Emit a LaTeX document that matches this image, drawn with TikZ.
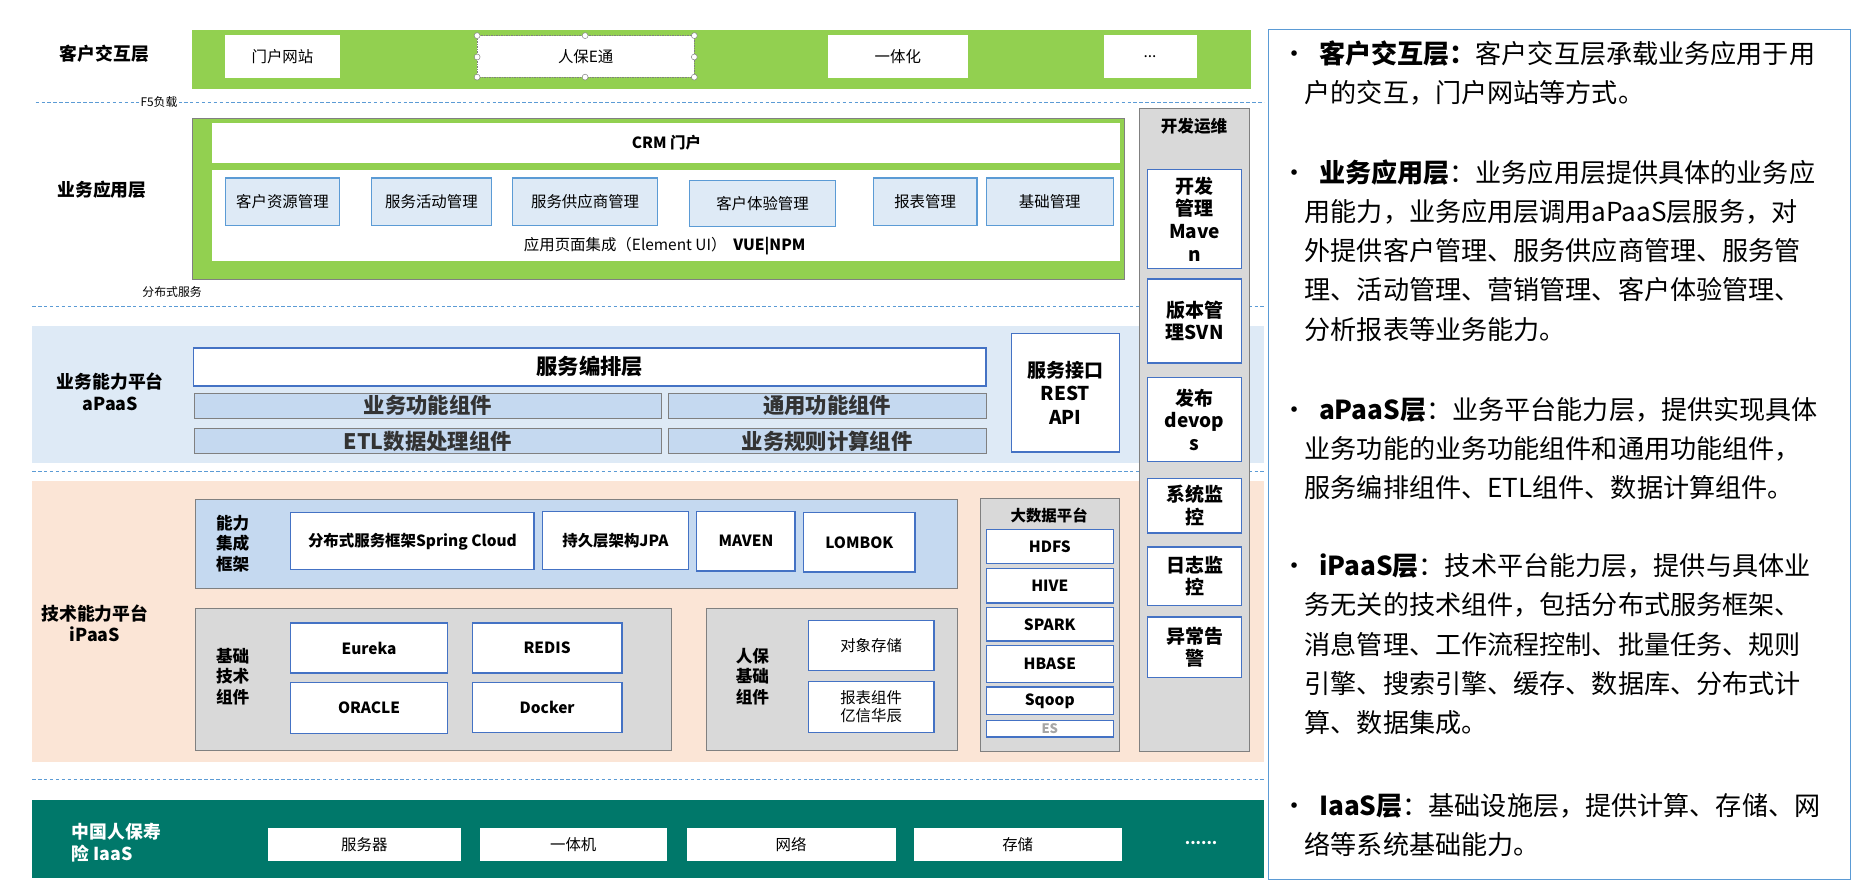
\documentclass[tikz,border=0pt]{standalone}
\usepackage{fontspec}
\setmainfont{Noto Sans CJK SC}
\usetikzlibrary{positioning}
\definecolor{lgreen}{HTML}{92D050}
\definecolor{lblue}{HTML}{DEEAF6}
\definecolor{mblue}{HTML}{C5D9F0}
\definecolor{bblue}{HTML}{4472C4}
\definecolor{peach}{HTML}{FBE5D6}
\definecolor{lgray}{HTML}{D9D9D9}
\definecolor{teal}{HTML}{00786A}
\definecolor{dline}{HTML}{5B9BD5}
\begin{document}
\begin{tikzpicture}[
  x=1pt, y=-1pt,
  font=\fontsize{13}{15}\selectfont,
  wbox/.style = {draw=white, fill=white},
  bbox/.style = {draw=bblue, line width=1.2pt, fill=white, font=\fontsize{13}{15}\selectfont\bfseries},
  abox/.style = {draw=dline, line width=1.2pt, fill=lblue},
  gbar/.style = {draw=gray, fill=mblue, font=\fontsize{18}{20}\selectfont\bfseries, text=black!80},
  cont/.style = {draw=gray, line width=0.8pt},
  sep/.style = {dline, densely dashed, line width=0.6pt},
  lay/.style = {font=\fontsize{15}{18}\selectfont\bfseries, align=center},
  vlab/.style = {font=\fontsize{14}{17}\selectfont\bfseries, align=left},
  dev/.style = {draw=bblue, line width=1.2pt, fill=white, align=center, font=\fontsize{16}{19}\selectfont\bfseries},
  note/.style = {anchor=north west, align=left, font=\fontsize{22}{33}\selectfont}
  ]
\useasboundingbox (0,0) rectangle (1568,750);

% client layer
\fill[lgreen] (162,25) rectangle (1054,75);
\node[lay] (kh) at (88,45) {客户交互层};
\filldraw[wbox] (190,30) rectangle (286,65) node[midway] {门户网站};
\filldraw[white, draw=gray, densely dotted] (402,30) rectangle (585,65) node[midway,text=black] {人保E通};
\foreach \p in {(402,30),(493,30),(585,30),(402,48),(585,48),(402,65),(493,65),(585,65)}
  \filldraw[draw=gray, fill=white] \p circle (2.5);
\filldraw[wbox] (698,30) rectangle (815,65) node[midway] {一体化};
\filldraw[wbox] (930,30) rectangle (1008,65) node[midway] {...};

\draw[sep] (30,86) -- (1065,86);
\node[fill=white, inner sep=1pt, font=\fontsize{10}{12}\selectfont] (f5) at (134,86) {F5负载};

% application layer
\filldraw[lgreen, draw=gray] (162,100) rectangle (947,235);
\node[lay] (yw) at (86,160) {业务应用层};
\fill[white] (179,104) rectangle (944,137) node[midway, text=black, font=\fontsize{13}{15}\selectfont\bfseries] {CRM 门户};
\fill[white] (179,143) rectangle (944,220);
\filldraw[abox] (190,150) rectangle (286,190) node[midway] {客户资源管理};
\filldraw[abox] (313,150) rectangle (414,190) node[midway] {服务活动管理};
\filldraw[abox] (432,150) rectangle (554,190) node[midway] {服务供应商管理};
\filldraw[abox] (581,152) rectangle (704,191) node[midway] {客户体验管理};
\filldraw[abox] (736,150) rectangle (823,190) node[midway] {报表管理};
\filldraw[abox] (831,150) rectangle (938,190) node[midway] {基础管理};
\node (ui) at (560,207) {应用页面集成（Element UI）\ \ \textbf{VUE|NPM}};

\node[font=\fontsize{10}{12}\selectfont] (fb) at (145,246) {分布式服务};
\draw[sep] (27,258) -- (1065,258);

% aPaaS
\fill[lblue] (27,275) rectangle (1065,390);
\node[lay] (ap) at (93,330) {业务能力平台\\aPaaS};
\filldraw[draw=bblue, line width=1.5pt, fill=white] (163,293) rectangle (831,325) node[midway, font=\fontsize{18}{20}\selectfont\bfseries] {服务编排层};
\filldraw[gbar] (164,331) rectangle (557,352) node[midway] {业务功能组件};
\filldraw[gbar] (563,331) rectangle (831,352) node[midway] {通用功能组件};
\filldraw[gbar] (164,361) rectangle (557,382) node[midway] {ETL数据处理组件};
\filldraw[gbar] (563,361) rectangle (831,382) node[midway] {业务规则计算组件};
\filldraw[draw=bblue, line width=1.2pt, fill=white] (852,281) rectangle (943,381) node[midway, align=center, font=\fontsize{16}{20}\selectfont\bfseries] {服务接口\\REST\\API};

\draw[sep] (27,397) -- (1065,397);

% iPaaS
\fill[peach] (27,405) rectangle (1065,642);
\node[lay] (ip) at (80,525) {技术能力平台\\iPaaS};
\filldraw[cont, fill=mblue] (165,421) rectangle (807,496);
\node[vlab] (jc) at (196,458) {能力\\集成\\框架};
\filldraw[bbox] (245,432) rectangle (450,480) node[midway] {分布式服务框架Spring Cloud};
\filldraw[bbox] (457,431) rectangle (580,480) node[midway] {持久层架构JPA};
\filldraw[bbox] (587,431) rectangle (670,481) node[midway] {MAVEN};
\filldraw[bbox] (677,432) rectangle (771,482) node[midway] {LOMBOK};

\filldraw[cont, fill=lgray] (165,513) rectangle (566,632);
\node[vlab] (jj) at (196,570) {基础\\技术\\组件};
\filldraw[bbox] (245,525) rectangle (377,567) node[midway] {Eureka};
\filldraw[bbox] (398,525) rectangle (524,567) node[midway] {REDIS};
\filldraw[bbox] (245,575) rectangle (377,618) node[midway] {ORACLE};
\filldraw[bbox] (398,575) rectangle (524,617) node[midway] {Docker};

\filldraw[cont, fill=lgray] (595,513) rectangle (807,632);
\node[vlab] (rb) at (634,570) {人保\\基础\\组件};
\filldraw[bbox] (681,523) rectangle (787,565) node[midway, font=\fontsize{13}{15}\selectfont] {对象存储};
\filldraw[bbox] (681,574) rectangle (787,617) node[midway, align=center, font=\fontsize{13}{15}\selectfont] {报表组件\\亿信华辰};

\filldraw[cont, fill=lgray] (826,420) rectangle (943,633);
\node[font=\fontsize{13}{15}\selectfont\bfseries] (dsj) at (884,434) {大数据平台};
\filldraw[bbox] (831,446) rectangle (938,475) node[midway] {HDFS};
\filldraw[bbox] (831,479) rectangle (938,508) node[midway] {HIVE};
\filldraw[bbox] (831,512) rectangle (938,540) node[midway] {SPARK};
\filldraw[bbox] (831,544) rectangle (938,575) node[midway] {HBASE};
\filldraw[bbox] (831,579) rectangle (938,602) node[midway] {Sqoop};
\filldraw[bbox, text=gray!70] (831,607) rectangle (938,621) node[midway, font=\fontsize{11}{12}\selectfont\bfseries] {ES};

% devops column
\filldraw[cont, fill=lgray] (960,91) rectangle (1053,633);
\node[font=\fontsize{14}{17}\selectfont\bfseries] (kfyw) at (1006,106) {开发运维};
\filldraw[dev] (967,143) rectangle (1046,226) node[midway] {开发\\管理\\Mave\\n};
\filldraw[dev] (967,235) rectangle (1046,306) node[midway] {版本管\\理SVN};
\filldraw[dev] (967,318) rectangle (1046,389) node[midway] {发布\\devop\\s};
\filldraw[dev] (967,403) rectangle (1046,449) node[midway] {系统监\\控};
\filldraw[dev] (967,461) rectangle (1046,510) node[midway] {日志监\\控};
\filldraw[dev] (967,520) rectangle (1046,571) node[midway] {异常告\\警};

\draw[sep] (27,657) -- (1065,657);

% IaaS
\fill[teal] (27,674) rectangle (1065,740);
\node[font=\fontsize{15}{19}\selectfont\bfseries, text=white, align=left, anchor=west] (ia) at (57,710) {中国人保寿\\险 IaaS};
\filldraw[wbox] (226,698) rectangle (388,725) node[midway] {服务器};
\filldraw[wbox] (405,698) rectangle (561,725) node[midway] {一体机};
\filldraw[wbox] (579,698) rectangle (754,725) node[midway] {网络};
\filldraw[wbox] (770,698) rectangle (945,725) node[midway] {存储};
\node[text=white, font=\fontsize{13}{15}\selectfont\bfseries] (dots) at (1012,710) {......};

% notes
\draw[dline, line width=0.8pt] (1069,25) rectangle (1559,741);
\node[note] (n1) at (1076,31) {•\ \ \textbf{客户交互层：}客户交互层承载业务应用于用\\\ \ \ \ 户的交互，门户网站等方式。};
\node[note] (n2) at (1076,131) {•\ \ \textbf{业务应用层}：业务应用层提供具体的业务应\\\ \ \ \ 用能力，业务应用层调用aPaaS层服务，对\\\ \ \ \ 外提供客户管理、服务供应商管理、服务管\\\ \ \ \ 理、活动管理、营销管理、客户体验管理、\\\ \ \ \ 分析报表等业务能力。};
\node[note] (n3) at (1076,331) {•\ \ \textbf{aPaaS层}：业务平台能力层，提供实现具体\\\ \ \ \ 业务功能的业务功能组件和通用功能组件，\\\ \ \ \ 服务编排组件、ETL组件、数据计算组件。};
\node[note] (n4) at (1076,463) {•\ \ \textbf{iPaaS层}：技术平台能力层，提供与具体业\\\ \ \ \ 务无关的技术组件，包括分布式服务框架、\\\ \ \ \ 消息管理、工作流程控制、批量任务、规则\\\ \ \ \ 引擎、搜索引擎、缓存、数据库、分布式计\\\ \ \ \ 算、数据集成。};
\node[note] (n5) at (1076,665) {•\ \ \textbf{IaaS层}：基础设施层，提供计算、存储、网\\\ \ \ \ 络等系统基础能力。};
\end{tikzpicture}
\end{document}
